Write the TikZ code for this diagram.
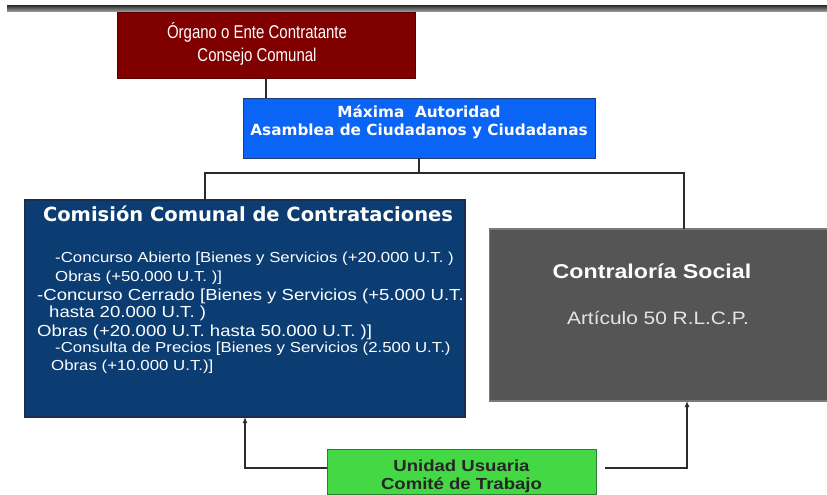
\documentclass[tikz,border=0pt]{standalone}
\usepackage{fontspec}
\setmainfont{Liberation Sans}
\newfontfamily\verdana{DejaVu Sans}
\newfontfamily\narrow[FakeStretch=0.81]{Liberation Sans}
\newfontfamily\wide[FakeStretch=1.16]{Liberation Sans}
\usetikzlibrary{arrows.meta,calc}
\definecolor{barc}{HTML}{3A3A3A}
\definecolor{redc}{HTML}{800000}
\definecolor{bluec}{HTML}{0A64F5}
\definecolor{blueb}{HTML}{1E3C78}
\definecolor{navyc}{HTML}{0B3D73}
\definecolor{navyb}{HTML}{1A2F4F}
\definecolor{grayc}{HTML}{555555}
\definecolor{grayb}{HTML}{7A7A7A}
\definecolor{greenc}{HTML}{44D844}
\definecolor{greenb}{HTML}{2E7D32}
\definecolor{linec}{HTML}{2B2B2B}
\begin{document}
\begin{tikzpicture}[x=1pt,y=-1pt,
  box/.style={inner sep=0pt,outer sep=0pt,align=center,text=white},
  conn/.style={draw=linec,line width=1.3pt},
  arr/.style={conn,-{Latex[length=6pt,width=5pt]}},
  body/.style={anchor=west,inner sep=0pt,text=white}]
\useasboundingbox (0,0) rectangle (827,495);
\clip (0,0) rectangle (827,495);
% top bar
\fill[top color=barc,bottom color=gray!70] (7,6) rectangle (827,12);
% boxes
\node[box,fill=redc,draw=redc!70!black,minimum width=298pt,minimum height=66pt,
  font=\narrow\fontsize{18.5}{23}\selectfont] (red) at (266,45)
  {\hspace*{-18pt}Órgano o Ente Contratante\\\hspace*{-18pt}Consejo Comunal\\[-17pt]};
\node[box,fill=bluec,draw=blueb,line width=0.8pt,minimum width=352pt,minimum height=60pt,
  font=\verdana\bfseries\fontsize{15.3}{17.5}\selectfont] (blue) at (419,128)
  {Máxima\ \ Autoridad\\Asamblea de Ciudadanos y Ciudadanas\\[-2pt]};
\node[box,fill=navyc,draw=navyb,line width=1.2pt,minimum width=440pt,minimum height=217pt] (navy) at (245,308.5) {};
\node[box,fill=grayc,draw=grayb,line width=1.5pt,minimum width=345pt,minimum height=172pt] (gray) at (662,315) {};
\node[box,fill=greenc,draw=greenb,line width=1pt,minimum width=269pt,minimum height=45pt,text=black!85,
  font=\wide\bfseries\fontsize{16}{18}\selectfont] (green) at (461.5,471.5)
  {\\[4pt]Unidad Usuaria\\Comité de Trabajo};
% navy texts
\node[inner sep=0pt,text=white,font=\verdana\bfseries\fontsize{19.5}{22}\selectfont] (ncap) at (248,214) {Comisión Comunal de Contrataciones};
\node[body,font=\wide\fontsize{14.5}{16}\selectfont] (l1) at (55,259) {-Concurso Abierto [Bienes y Servicios (+20.000 U.T. )};
\node[body,font=\wide\fontsize{14.5}{16}\selectfont] (l2) at (55,278) {Obras (+50.000 U.T. )]};
\node[body,font=\wide\fontsize{16}{18}\selectfont] (l3) at (37,296) {-Concurso Cerrado [Bienes y Servicios (+5.000 U.T.};
\node[body,font=\wide\fontsize{16}{18}\selectfont] (l4) at (49,313) {hasta 20.000 U.T. )};
\node[body,font=\wide\fontsize{16}{18}\selectfont] (l5) at (37,332) {Obras (+20.000 U.T. hasta 50.000 U.T. )]};
\node[body,font=\wide\fontsize{14.5}{16}\selectfont] (l6) at (55,349) {-Consulta de Precios [Bienes y Servicios (2.500 U.T.)};
\node[body,font=\wide\fontsize{14.5}{16}\selectfont] (l7) at (51,367) {Obras (+10.000 U.T.)]};
% gray texts
\node[inner sep=0pt,text=white,font=\wide\bfseries\fontsize{20}{22}\selectfont] (gcap) at (652,271) {Contraloría Social};
\node[inner sep=0pt,text=white!90!black,font=\wide\fontsize{18}{20}\selectfont] (gsub) at (658,318) {Artículo 50 R.L.C.P.};
% connectors
\coordinate (j) at (419,173);
\coordinate (jl) at (205,173);
\coordinate (jr) at (684,173);
\draw[conn] (red.south) -- (red.south |- blue.north);
\draw[conn] (blue.south) -- (j);
\draw[conn] (navy.north -| jl) -- (jl) -- (jr) -- (gray.north -| jr);
\coordinate (al) at (245,468);
\coordinate (ar) at (687,468);
\coordinate (gs) at (605,468);
\draw[arr] (green.west |- al) -- (al) -- (navy.south -| al);
\draw[arr] (gs) -- (ar) -- (gray.south -| ar);
\end{tikzpicture}
\end{document}
